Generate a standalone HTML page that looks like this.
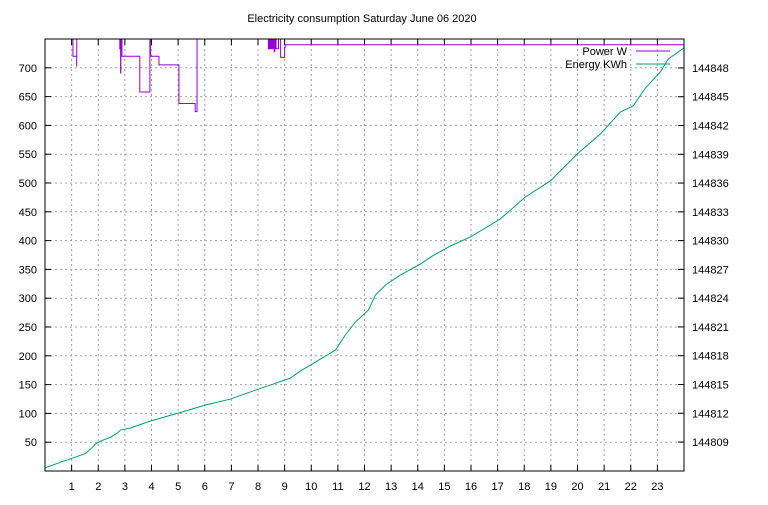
<!DOCTYPE html>
<html><head><meta charset="utf-8"><style>
body{margin:0;background:#fff;}
svg text{font-family:"Liberation Sans",sans-serif;font-size:11px;fill:#000;}
</style></head><body>
<svg width="768" height="500" xmlns="http://www.w3.org/2000/svg">
<rect width="768" height="500" fill="#fff"/>
<text x="362" y="22" text-anchor="middle">Electricity consumption Saturday June 06 2020</text>
<g id="grid"></g><g id="axes"></g>
<defs><clipPath id="pc"><rect x="45" y="39" width="639" height="432"/></clipPath></defs>
<g clip-path="url(#pc)"><g id="series"></g></g>
<g>
<text x="627" y="55" text-anchor="end">Power W</text>
<line x1="636" y1="51" x2="670" y2="51" stroke="#9400d3"/>
<text x="627" y="68" text-anchor="end">Energy KWh</text>
<line x1="636" y1="64" x2="670" y2="64" stroke="#009e73"/>
</g>
<rect x="45" y="39" width="639" height="432" fill="none" stroke="#000"/>
</svg>
<script>
const xTicks=[1,2,3,4,5,6,7,8,9,10,11,12,13,14,15,16,17,18,19,20,21,22,23];
const leftTicks=[50,100,150,200,250,300,350,400,450,500,550,600,650,700];
const rightTicks=[144809,144812,144815,144818,144821,144824,144827,144830,144833,144836,144839,144842,144845,144848];
const powerHours=[0,1.05,1.05,1.19,1.19,1.2,2.81,2.81,2.82,2.82,2.83,2.83,2.84,2.84,2.85,2.85,2.86,2.86,2.87,2.87,2.88,2.88,2.89,2.89,3.56,3.56,3.94,3.94,3.96,3.96,4.28,4.28,5.03,5.03,5.64,5.64,5.71,5.71,
8.39,8.39,8.41,8.41,8.43,8.43,8.45,8.45,8.47,8.47,8.49,8.49,8.51,8.51,8.53,8.53,8.55,8.55,8.57,8.57,8.59,8.59,8.61,8.61,8.63,8.63,8.65,8.65,8.67,8.67,8.68,8.68,8.77,8.77,8.85,8.85,9.0,9.0,9.02,9.02,24];
const powerWatts=[800,800,720,720,702,800,800,733,733,800,800,733,733,691,691,733,733,800,800,733,733,760,760,720,720,658,658,800,800,720,720,705,705,638,638,624,624,800,
800,733,733,800,800,733,733,800,800,733,733,800,800,733,733,800,800,733,733,800,800,733,733,728,728,800,800,733,733,800,800,733,733,800,800,718,718,735,735,740,740,800,800];
const energyHours=[0,0.59,1.52,1.8,1.9,2.09,2.46,2.7,2.84,3.21,3.96,5.02,6.03,6.97,7.91,8.47,9.22,9.59,10.16,10.91,11.28,11.66,12.15,12.41,12.79,13.35,14.1,14.55,15.23,15.98,17.1,18.04,18.98,20.03,20.86,21.61,22.09,22.55,23.11,23.41,24];
const energyKWh=[144806.3,144806.9,144807.8,144808.5,144808.8,144809.1,144809.5,144809.9,144810.25,144810.46,144811.19,144812.03,144812.86,144813.48,144814.42,144814.94,144815.67,144816.4,144817.34,144818.59,144820.16,144821.51,144822.77,144824.33,144825.37,144826.42,144827.56,144828.4,144829.44,144830.38,144832.25,144834.55,144836.22,144839.14,144841.12,144843.41,144844.04,144845.91,144847.58,144848.94,144850.09];
const L=45,R=684,T=39,B=471;
const xs=h=>L+h*(R-L)/24;
const yL=w=>B-w*(B-T)/750;
const yR=e=>B-(e-144805.98)*(B-T)/(144851.02-144805.98);
const NS="http://www.w3.org/2000/svg";
function mk(tag,attrs,parent,text){const e=document.createElementNS(NS,tag);for(const k in attrs)e.setAttribute(k,attrs[k]);if(text!==undefined)e.textContent=text;parent.appendChild(e);return e;}
const grid=document.getElementById('grid'),axes=document.getElementById('axes'),series=document.getElementById('series');
xTicks.forEach(t=>{const x=xs(t);
const g=mk('line',{x1:x,y1:T,x2:x,y2:B,stroke:'#a0a0a0','stroke-dasharray':'2,3'},grid);


const tk=mk('path',{d:`M${x},${B}v-6M${x},${T}v6`,stroke:'#000'},axes);


const lb=mk('text',{x:x,y:B+19,'text-anchor':'middle'},axes,String(t));

});
leftTicks.forEach(t=>{const y=yL(t);
const g=mk('line',{x1:L,y1:y,x2:R,y2:y,stroke:'#a0a0a0','stroke-dasharray':'2,3'},grid);


const tk=mk('path',{d:`M${L},${y}h6`,stroke:'#000'},axes);


const lb=mk('text',{x:L-8,y:y+4,'text-anchor':'end'},axes,String(t));

});
rightTicks.forEach(t=>{const y=yR(t);
const tk=mk('path',{d:`M${R},${y}h-6`,stroke:'#000'},axes);


const lb=mk('text',{x:R+8,y:y+4},axes,String(t));

});
const pp=mk('polyline',{points:powerHours.map((h,i)=>xs(h)+','+yL(powerWatts[i])).join(' '),fill:'none',stroke:'#9400d3','stroke-width':1},series);


const ep=mk('polyline',{points:energyHours.map((h,i)=>xs(h)+','+yR(energyKWh[i])).join(' '),fill:'none',stroke:'#009e73','stroke-width':1},series);


</script>
</body></html>
